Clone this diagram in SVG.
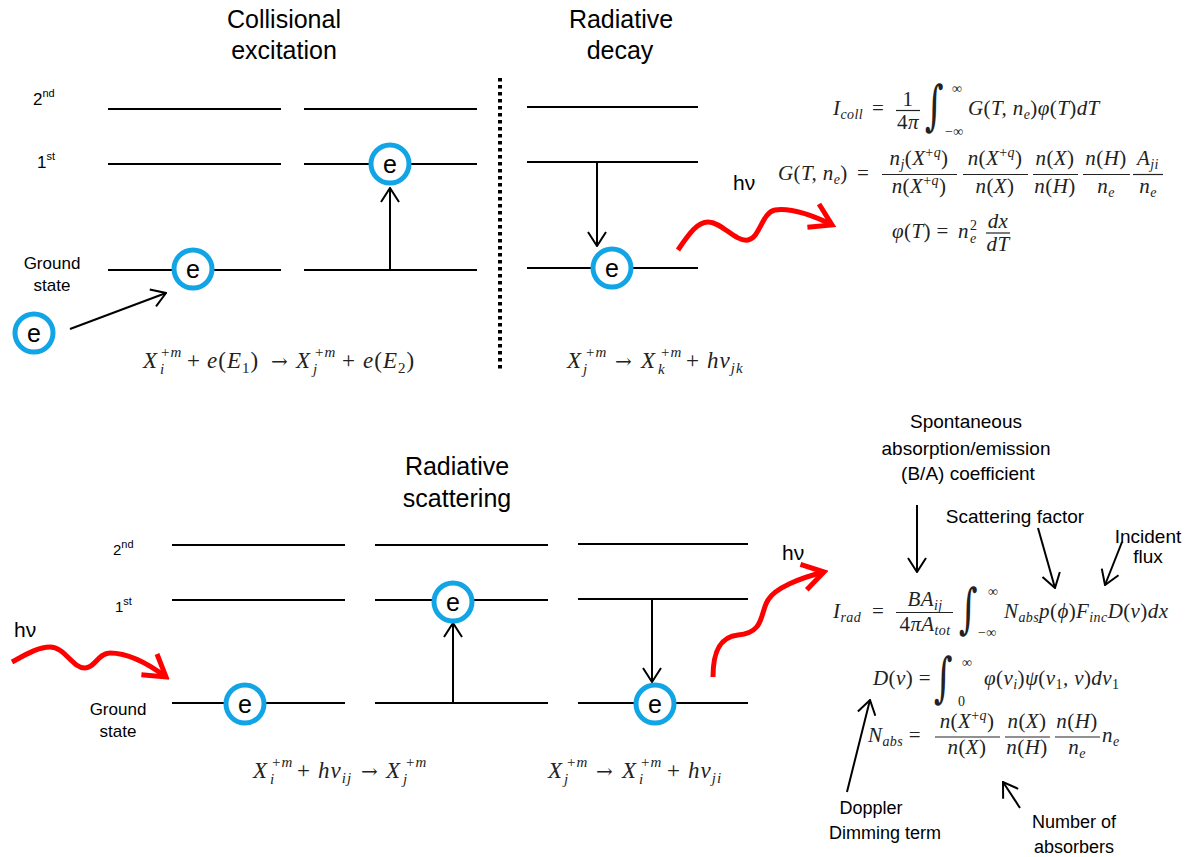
<svg xmlns="http://www.w3.org/2000/svg" width="1190" height="857" viewBox="0 0 1190 857">
<style>
.t{font-family:"Liberation Sans",Arial,sans-serif;font-size:25px;fill:#000;text-anchor:middle}
.l{font-family:"Liberation Sans",Arial,sans-serif;font-size:17px;fill:#000}
.lc{font-family:"Liberation Sans",Arial,sans-serif;font-size:17px;fill:#000;text-anchor:middle}
.sup{font-size:11px}
.a{font-family:"Liberation Sans",Arial,sans-serif;font-size:19px;fill:#000;text-anchor:middle}
.hv{font-family:"Liberation Sans",Arial,sans-serif;font-size:21px;fill:#000}
.m{font-family:"Liberation Serif","Times New Roman",serif;font-size:21px;fill:#222;font-style:italic;letter-spacing:0.4px}
.r{font-family:"Liberation Serif","Times New Roman",serif;font-size:23px;fill:#222;font-style:italic;letter-spacing:1px}
.s{font-size:14px}
.rs{font-size:15px}
.u{font-style:normal}
.ra{font-family:"DejaVu Serif",serif;font-size:20px;font-style:normal}
.int{font-family:"DejaVu Serif",serif;font-size:40px;fill:#222;font-style:normal}
.lev{stroke:#000;stroke-width:2;fill:none}
.bar{stroke:#222;stroke-width:1.2}
.ec{fill:#fff;stroke:#12a5e6;stroke-width:5}
.et{font-family:"Liberation Sans",Arial,sans-serif;font-size:25px;fill:#000;text-anchor:middle}
.ar{stroke:#000;stroke-width:2;fill:none;marker-end:url(#ah)}
.wv{stroke:#ff0000;stroke-width:5;fill:none;marker-end:url(#rh)}
</style>
<defs>
<marker id="ah" viewBox="0 0 16 20" markerWidth="16" markerHeight="20" refX="15" refY="10" orient="auto" markerUnits="userSpaceOnUse">
<path d="M1,1 L15,10 L1,19" fill="none" stroke="#000" stroke-width="2"/>
</marker>
<marker id="rh" viewBox="0 0 28 32" markerWidth="28" markerHeight="32" refX="24" refY="16" orient="auto" markerUnits="userSpaceOnUse">
<path d="M3,3 L24,16 L3,29" fill="none" stroke="#ff0000" stroke-width="5"/>
</marker>
</defs>
<rect width="1190" height="857" fill="#fff"/>

<g id="titles">
<text class="t" x="284" y="28">Collisional</text>
<text class="t" x="284" y="59">excitation</text>
<text class="t" x="621" y="28">Radiative</text>
<text class="t" x="620" y="59">decay</text>
<text class="t" x="457" y="475">Radiative</text>
<text class="t" x="457" y="507">scattering</text>
</g>

<g id="level-labels">
<text class="l" x="33" y="105">2<tspan class="sup" dy="-8">nd</tspan></text>
<text class="l" x="37" y="168">1<tspan class="sup" dy="-8">st</tspan></text>
<text class="lc" x="52" y="269">Ground</text>
<text class="lc" x="52" y="291">state</text>
<text class="l" x="113" y="555" style="font-size:15px">2<tspan class="sup" dy="-7">nd</tspan></text>
<text class="l" x="115" y="612" style="font-size:15px">1<tspan class="sup" dy="-7">st</tspan></text>
<text class="lc" x="118" y="715">Ground</text>
<text class="lc" x="118" y="737">state</text>
</g>

<g id="divider">
<line x1="500" y1="78" x2="500" y2="372" stroke="#000" stroke-width="4" stroke-dasharray="3.5 3.5"/>
</g>

<g id="levels-collisional">
<line class="lev" x1="108" y1="109" x2="281" y2="109"/>
<line class="lev" x1="108" y1="164" x2="281" y2="164"/>
<line class="lev" x1="108" y1="270" x2="281" y2="270"/>
<line class="lev" x1="304" y1="109" x2="477" y2="109"/>
<line class="lev" x1="304" y1="164" x2="477" y2="164"/>
<line class="lev" x1="304" y1="270" x2="477" y2="270"/>
</g>
<g id="levels-decay">
<line class="lev" x1="527" y1="107" x2="698" y2="107"/>
<line class="lev" x1="527" y1="162" x2="698" y2="162"/>
<line class="lev" x1="527" y1="268" x2="698" y2="268"/>
</g>
<g id="levels-scattering">
<line class="lev" x1="172" y1="545" x2="345" y2="545"/>
<line class="lev" x1="172" y1="600" x2="345" y2="600"/>
<line class="lev" x1="172" y1="703" x2="345" y2="703"/>
<line class="lev" x1="375" y1="545" x2="548" y2="545"/>
<line class="lev" x1="375" y1="600" x2="548" y2="600"/>
<line class="lev" x1="375" y1="703" x2="548" y2="703"/>
<line class="lev" x1="578" y1="544" x2="748" y2="544"/>
<line class="lev" x1="578" y1="599" x2="748" y2="599"/>
<line class="lev" x1="578" y1="703" x2="748" y2="703"/>
</g>

<g id="connectors">
<line class="ar" x1="70" y1="329" x2="166" y2="293"/>
<line class="ar" x1="390" y1="270" x2="390" y2="188"/>
<line class="ar" x1="597" y1="162" x2="597" y2="246"/>
<line class="ar" x1="453" y1="703" x2="453" y2="623"/>
<line class="ar" x1="652" y1="599" x2="652" y2="682"/>
<path class="wv" d="M678,250 C690,232 698,222 708,222 C722,222 735,242 748,240 C760,238 762,212 775,210 C790,208 812,215 832,225"/>
<path class="wv" d="M12,662 C25,655 38,647 50,647 C65,647 72,668 85,668 C95,668 98,653 110,653 C130,653 150,665 166,677"/>
<path class="wv" d="M713,677 C713,655 718,637 738,635 C765,633 760,612 768,600 C775,588 800,578 824,572"/>
<line class="ar" x1="917" y1="505" x2="917" y2="572"/>
<line class="ar" x1="1038" y1="528" x2="1055" y2="588"/>
<line class="ar" x1="1122" y1="542" x2="1105" y2="585"/>
<line class="ar" x1="847" y1="792" x2="870" y2="700"/>
<line class="ar" x1="1020" y1="808" x2="1003" y2="782"/>
</g>

<g id="electron-free"><circle class="ec" cx="34" cy="333" r="19"/><text class="et" x="34" y="342">e</text></g>
<g id="electron-ground-1"><circle class="ec" cx="193" cy="269" r="19"/><text class="et" x="193" y="278">e</text></g>
<g id="electron-excited-1"><circle class="ec" cx="390" cy="164" r="19"/><text class="et" x="390" y="173">e</text></g>
<g id="electron-decay"><circle class="ec" cx="612" cy="268" r="19"/><text class="et" x="612" y="277">e</text></g>
<g id="electron-ground-2"><circle class="ec" cx="245" cy="704" r="19"/><text class="et" x="245" y="713">e</text></g>
<g id="electron-excited-2"><circle class="ec" cx="453" cy="602" r="19"/><text class="et" x="453" y="611">e</text></g>
<g id="electron-decay-2"><circle class="ec" cx="655" cy="704" r="19"/><text class="et" x="655" y="713">e</text></g>

<g id="photon-labels">
<text class="hv" x="733" y="190">hν</text>
<text class="hv" x="14" y="637">hν</text>
<text class="hv" x="782" y="560">hν</text>
</g>

<g id="reaction-collisional">
<text class="r"><tspan x="143" y="368">X</tspan><tspan class="rs" x="160" y="374">i</tspan><tspan class="rs u" x="161" y="357">+</tspan><tspan class="rs">m</tspan><tspan class="u" x="187" y="368">+</tspan><tspan x="207">e</tspan><tspan class="u">(</tspan><tspan>E</tspan><tspan class="rs u" y="373">1</tspan><tspan class="u" y="368">)</tspan><tspan class="ra" x="271" y="368">→</tspan><tspan x="296">X</tspan><tspan class="rs" x="313" y="374">j</tspan><tspan class="rs u" x="315" y="357">+</tspan><tspan class="rs">m</tspan><tspan class="u" x="342" y="368">+</tspan><tspan x="363">e</tspan><tspan class="u">(</tspan><tspan>E</tspan><tspan class="rs u" y="373">2</tspan><tspan class="u" y="368">)</tspan></text>
</g>
<g id="reaction-decay">
<text class="r"><tspan x="567" y="368">X</tspan><tspan class="rs" x="583" y="374">j</tspan><tspan class="rs u" x="586" y="357">+</tspan><tspan class="rs">m</tspan><tspan class="ra" x="615" y="368">→</tspan><tspan x="641">X</tspan><tspan class="rs" x="658" y="374">k</tspan><tspan class="rs u" x="661" y="357">+</tspan><tspan class="rs">m</tspan><tspan class="u" x="686" y="368">+</tspan><tspan x="707">hν</tspan><tspan class="rs" y="373">jk</tspan></text>
</g>
<g id="reaction-absorption">
<text class="r"><tspan x="253" y="778">X</tspan><tspan class="rs" x="270" y="784">i</tspan><tspan class="rs u" x="272" y="767">+</tspan><tspan class="rs">m</tspan><tspan class="u" x="297" y="778">+</tspan><tspan x="318">hν</tspan><tspan class="rs" y="783">ij</tspan><tspan class="ra" x="361" y="778">→</tspan><tspan x="386">X</tspan><tspan class="rs" x="403" y="784">j</tspan><tspan class="rs u" x="406" y="767">+</tspan><tspan class="rs">m</tspan></text>
</g>
<g id="reaction-emission">
<text class="r"><tspan x="548" y="778">X</tspan><tspan class="rs" x="564" y="784">j</tspan><tspan class="rs u" x="567" y="767">+</tspan><tspan class="rs">m</tspan><tspan class="ra" x="596" y="778">→</tspan><tspan x="622">X</tspan><tspan class="rs" x="639" y="784">i</tspan><tspan class="rs u" x="641" y="767">+</tspan><tspan class="rs">m</tspan><tspan class="u" x="667" y="778">+</tspan><tspan x="688">hν</tspan><tspan class="rs" y="783">ji</tspan></text>
</g>

<g id="formula-Icoll">
<text class="m"><tspan x="833" y="115">I</tspan><tspan class="s" y="119">coll</tspan><tspan class="u" x="872" y="115">=</tspan></text>
<text class="m u" x="908" y="106" text-anchor="middle">1</text>
<line class="bar" x1="896" y1="110.5" x2="920" y2="110.5"/>
<text class="m" x="908" y="129" text-anchor="middle"><tspan class="u">4</tspan>π</text>
<text class="int" transform="translate(925,124) scale(0.9,1.35)">∫</text>
<text class="m u s" x="952" y="93">∞</text>
<text class="m u s" x="945" y="136">−∞</text>
<text class="m"><tspan x="968" y="115">G</tspan><tspan class="u">(</tspan><tspan>T, n</tspan><tspan class="s" y="119">e</tspan><tspan class="u" y="115">)</tspan><tspan>φ</tspan><tspan class="u">(</tspan><tspan>T</tspan><tspan class="u">)</tspan><tspan>dT</tspan></text>
</g>

<g id="formula-G">
<text class="m"><tspan x="778" y="180">G</tspan><tspan class="u">(</tspan><tspan>T, n</tspan><tspan class="s" y="184">e</tspan><tspan class="u" y="180">)</tspan><tspan class="u" x="857" y="180">=</tspan></text>
<text class="m" x="919" y="165" text-anchor="middle">n<tspan class="s" dy="4">j</tspan><tspan class="u" dy="-4">(</tspan>X<tspan class="s u" dy="-8">+</tspan><tspan class="s">q</tspan><tspan class="u" dy="8">)</tspan></text>
<line class="bar" x1="882" y1="174.5" x2="957" y2="174.5"/>
<text class="m" x="919" y="193" text-anchor="middle">n<tspan class="u">(</tspan>X<tspan class="s u" dy="-8">+</tspan><tspan class="s">q</tspan><tspan class="u" dy="8">)</tspan></text>
<text class="m" x="995" y="165" text-anchor="middle">n<tspan class="u">(</tspan>X<tspan class="s u" dy="-8">+</tspan><tspan class="s">q</tspan><tspan class="u" dy="8">)</tspan></text>
<line class="bar" x1="963" y1="174.5" x2="1028" y2="174.5"/>
<text class="m" x="995" y="193" text-anchor="middle">n<tspan class="u">(</tspan>X<tspan class="u">)</tspan></text>
<text class="m" x="1055" y="165" text-anchor="middle">n<tspan class="u">(</tspan>X<tspan class="u">)</tspan></text>
<line class="bar" x1="1033" y1="174.5" x2="1078" y2="174.5"/>
<text class="m" x="1055" y="193" text-anchor="middle">n<tspan class="u">(</tspan>H<tspan class="u">)</tspan></text>
<text class="m" x="1106" y="165" text-anchor="middle">n<tspan class="u">(</tspan>H<tspan class="u">)</tspan></text>
<line class="bar" x1="1083" y1="174.5" x2="1130" y2="174.5"/>
<text class="m" x="1106" y="193" text-anchor="middle">n<tspan class="s" dy="4">e</tspan></text>
<text class="m" x="1148" y="165" text-anchor="middle">A<tspan class="s" dy="4">ji</tspan></text>
<line class="bar" x1="1133" y1="174.5" x2="1163" y2="174.5"/>
<text class="m" x="1148" y="193" text-anchor="middle">n<tspan class="s" dy="4">e</tspan></text>
</g>

<g id="formula-phi">
<text class="m"><tspan x="892" y="238">φ</tspan><tspan class="u">(</tspan><tspan>T</tspan><tspan class="u">) =</tspan><tspan x="958" y="238">n</tspan><tspan class="s u" x="970" y="230">2</tspan><tspan class="s" x="970" y="243">e</tspan></text>
<text class="m" x="998" y="228" text-anchor="middle">dx</text>
<line class="bar" x1="986" y1="233" x2="1010" y2="233"/>
<text class="m" x="998" y="251" text-anchor="middle">dT</text>
</g>

<g id="labels-right">
<text class="a" x="966" y="428">Spontaneous</text>
<text class="a" x="966" y="455">absorption/emission</text>
<text class="a" x="968" y="480">(B/A) coefficient</text>
<text class="a" x="1015" y="523">Scattering factor</text>
<text class="a" x="1148" y="543">Incident</text>
<text class="a" x="1148" y="563">flux</text>
<text class="a" x="871" y="814" style="font-size:18px">Doppler</text>
<text class="a" x="885" y="839" style="font-size:18px">Dimming term</text>
<text class="a" x="1074" y="828" style="font-size:18px">Number of</text>
<text class="a" x="1074" y="853" style="font-size:18px">absorbers</text>
</g>

<g id="formula-Irad">
<text class="m"><tspan x="833" y="618">I</tspan><tspan class="s" y="622">rad</tspan><tspan class="u" x="872" y="618">=</tspan></text>
<text class="m" x="925" y="606" text-anchor="middle">BA<tspan class="s" dy="4">ij</tspan></text>
<line class="bar" x1="896" y1="612.5" x2="953" y2="612.5"/>
<text class="m" x="925" y="631" text-anchor="middle"><tspan class="u">4</tspan>πA<tspan class="s" dy="4">tot</tspan></text>
<text class="int" transform="translate(959,627) scale(0.9,1.35)">∫</text>
<text class="m u s" x="988" y="596">∞</text>
<text class="m u s" x="978" y="637">−∞</text>
<text class="m"><tspan x="1004" y="618">N</tspan><tspan class="s" y="622">abs</tspan><tspan y="618">p</tspan><tspan class="u">(</tspan><tspan>ϕ</tspan><tspan class="u">)</tspan><tspan>F</tspan><tspan class="s" y="622">inc</tspan><tspan y="618">D</tspan><tspan class="u">(</tspan><tspan>v</tspan><tspan class="u">)</tspan><tspan>dx</tspan></text>
</g>

<g id="formula-D">
<text class="m"><tspan x="873" y="685">D</tspan><tspan class="u">(</tspan><tspan>v</tspan><tspan class="u">) =</tspan></text>
<text class="int" transform="translate(934,696) scale(0.9,1.35)">∫</text>
<text class="m u s" x="962" y="667">∞</text>
<text class="m u s" x="958" y="706">0</text>
<text class="m"><tspan x="984" y="685">φ</tspan><tspan class="u">(</tspan><tspan>ν</tspan><tspan class="s" y="689">i</tspan><tspan class="u" y="685">)</tspan><tspan>ψ</tspan><tspan class="u">(</tspan><tspan>ν</tspan><tspan class="s u" y="689">1</tspan><tspan y="685">, ν</tspan><tspan class="u">)</tspan><tspan>dν</tspan><tspan class="s u" y="689">1</tspan></text>
</g>

<g id="formula-Nabs">
<text class="m"><tspan x="868" y="742">N</tspan><tspan class="s" y="746">abs</tspan><tspan class="u" y="742"> =</tspan></text>
<text class="m" x="967" y="728" text-anchor="middle">n<tspan class="u">(</tspan>X<tspan class="s u" dy="-8">+</tspan><tspan class="s">q</tspan><tspan class="u" dy="8">)</tspan></text>
<line class="bar" x1="935" y1="737" x2="1000" y2="737"/>
<text class="m" x="967" y="754" text-anchor="middle">n<tspan class="u">(</tspan>X<tspan class="u">)</tspan></text>
<text class="m" x="1027" y="728" text-anchor="middle">n<tspan class="u">(</tspan>X<tspan class="u">)</tspan></text>
<line class="bar" x1="1005" y1="737" x2="1050" y2="737"/>
<text class="m" x="1027" y="754" text-anchor="middle">n<tspan class="u">(</tspan>H<tspan class="u">)</tspan></text>
<text class="m" x="1077" y="728" text-anchor="middle">n<tspan class="u">(</tspan>H<tspan class="u">)</tspan></text>
<line class="bar" x1="1055" y1="737" x2="1100" y2="737"/>
<text class="m" x="1077" y="754" text-anchor="middle">n<tspan class="s" dy="4">e</tspan></text>
<text class="m"><tspan x="1102" y="742">n</tspan><tspan class="s" y="746">e</tspan></text>
</g>
</svg>
